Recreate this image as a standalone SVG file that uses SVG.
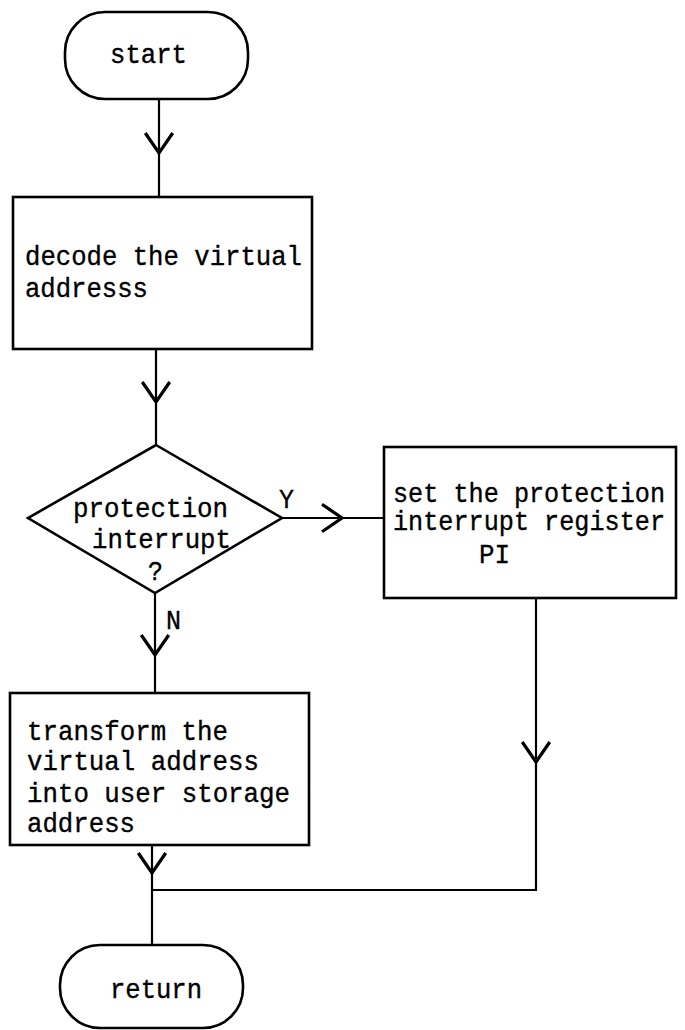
<svg xmlns="http://www.w3.org/2000/svg" width="685" height="1030" viewBox="0 0 685 1030">
  <style>
    .shape { fill: none; stroke: #000; stroke-width: 2.6; }
    .wire { fill: none; stroke: #000; stroke-width: 2.2; }
    .lbl { font-family: "Liberation Mono", "DejaVu Sans Mono", monospace; font-size: 27px; fill: #000; stroke: #000; stroke-width: 0.35; }
  </style>
  <defs>
    <!-- open "V" arrowhead, drawn part-way along a flow line -->
    <marker id="vee" markerUnits="userSpaceOnUse" markerWidth="40" markerHeight="40" viewBox="-22 -16 26 32" refX="0" refY="0" orient="auto">
      <path d="M-16,-11 L0,0 L-16,11" fill="none" stroke="#000" stroke-width="2.6"/>
    </marker>
  </defs>
  <rect width="685" height="1030" fill="#fff"/>

  <g id="connectors">
    <path class="wire" d="M159 99 V153" marker-end="url(#vee)"/>
    <path class="wire" d="M159 153 V197"/>
    <path class="wire" d="M156 349 V402" marker-end="url(#vee)"/>
    <path class="wire" d="M156 402 V445"/>
    <path class="wire" d="M282 518 H342" marker-end="url(#vee)"/>
    <path class="wire" d="M342 518 H384"/>
    <path class="wire" d="M155 593 V655" marker-end="url(#vee)"/>
    <path class="wire" d="M155 655 V693"/>
    <path class="wire" d="M536 598 V762" marker-end="url(#vee)"/>
    <path class="wire" d="M536 762 V890 H152"/>
    <path class="wire" d="M152 845 V873" marker-end="url(#vee)"/>
    <path class="wire" d="M152 873 V945"/>
    <text class="lbl" x="279" y="508" textLength="15" lengthAdjust="spacingAndGlyphs">Y</text>
    <text class="lbl" x="166" y="629" textLength="15" lengthAdjust="spacingAndGlyphs">N</text>
  </g>

  <g id="start">
    <rect class="shape" x="65" y="12" width="183" height="87" rx="40" ry="40"/>
    <text class="lbl" x="110" y="63" textLength="77" lengthAdjust="spacingAndGlyphs">start</text>
  </g>

  <g id="decode">
    <rect class="shape" x="13" y="197" width="299" height="152"/>
    <text class="lbl" x="25" y="265" textLength="277" lengthAdjust="spacingAndGlyphs">decode the virtual</text>
    <text class="lbl" x="25" y="297" textLength="123" lengthAdjust="spacingAndGlyphs">addresss</text>
  </g>

  <g id="check">
    <polygon class="shape" points="156,445 282,518 155,593 28,518"/>
    <text class="lbl" x="73" y="517" textLength="155" lengthAdjust="spacingAndGlyphs">protection</text>
    <text class="lbl" x="92" y="548" textLength="139" lengthAdjust="spacingAndGlyphs">interrupt</text>
    <text class="lbl" x="148" y="580" textLength="15" lengthAdjust="spacingAndGlyphs">?</text>
  </g>

  <g id="setpi">
    <rect class="shape" x="384" y="447" width="292" height="151"/>
    <text class="lbl" x="393" y="502" textLength="272" lengthAdjust="spacingAndGlyphs">set the protection</text>
    <text class="lbl" x="393" y="530" textLength="272" lengthAdjust="spacingAndGlyphs">interrupt register</text>
    <text class="lbl" x="479" y="563" textLength="31" lengthAdjust="spacingAndGlyphs">PI</text>
  </g>

  <g id="transform">
    <rect class="shape" x="10" y="693" width="299" height="152"/>
    <text class="lbl" x="27" y="740" textLength="201" lengthAdjust="spacingAndGlyphs">transform the</text>
    <text class="lbl" x="27" y="770" textLength="232" lengthAdjust="spacingAndGlyphs">virtual address</text>
    <text class="lbl" x="27" y="802" textLength="263" lengthAdjust="spacingAndGlyphs">into user storage</text>
    <text class="lbl" x="27" y="832" textLength="108" lengthAdjust="spacingAndGlyphs">address</text>
  </g>

  <g id="return">
    <rect class="shape" x="60" y="945" width="183" height="83" rx="40" ry="40"/>
    <text class="lbl" x="110" y="998" textLength="92" lengthAdjust="spacingAndGlyphs">return</text>
  </g>
</svg>
